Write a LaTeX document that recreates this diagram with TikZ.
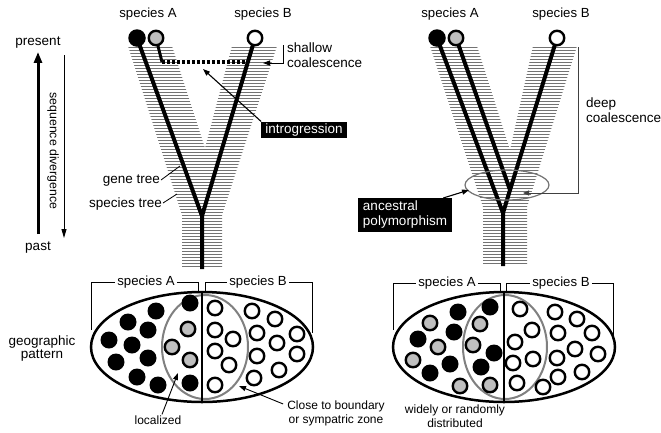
\documentclass[tikz,border=0pt]{standalone}
\usepackage{fontspec}
\setmainfont{Liberation Sans}
\usetikzlibrary{arrows.meta,calc,shapes.geometric}
\begin{document}
\begin{tikzpicture}[x=1pt,y=-1pt,
  lbl/.style={font=\fontsize{13.5}{14.5}\selectfont, inner sep=0pt},
  toplbl/.style={font=\fontsize{13.2}{14}\selectfont, inner sep=0pt},
  slbl/.style={font=\fontsize{12}{13.5}\selectfont, inner sep=0pt, align=center},
  lin/.style={line width=4pt, line join=round},
  hatchline/.style={draw=black!55, line width=1.7pt},
  bdot/.style={circle, fill=black, minimum size=17pt, inner sep=0pt},
  wdot/.style={circle, draw=black, line width=2.4pt, fill=white, minimum size=14.5pt, inner sep=0pt},
  gdot/.style={wdot, fill=black!25},
  blackbox/.style={fill=black, text=white, font=\fontsize{13.5}{15}\selectfont, inner xsep=4pt, inner ysep=2pt, align=left},
  ptr/.style={line width=1.1pt, -{Triangle[length=7pt,width=5pt]}},
  brk/.style={line width=0.9pt},
  outerell/.style={ellipse, draw=black, line width=2.5pt, fill=white, minimum width=222pt, minimum height=110pt, inner sep=0pt},
  innerell/.style={ellipse, draw=black!50, line width=2pt, minimum width=86pt, minimum height=104pt, inner sep=0pt},
]
\useasboundingbox (0,0) rectangle (661,432);

% ---------- time axis ----------
\node[lbl] (present) at (38,43) {present};
\node[lbl] (past) at (38,248) {past};
\draw[line width=3pt, -{Triangle[length=11pt,width=8pt]}, shorten <=8pt, shorten >=3pt] (past.north) -- (present.south);
\coordinate (sdTop) at (64,55);
\coordinate (sdBot) at (64,238);
\draw[line width=0.8pt, -{Triangle[length=9pt,width=5pt]}] (sdTop) -- (sdBot);
\node[lbl, rotate=-90, font=\fontsize{12.3}{14}\selectfont] (seqdiv) at (53,151) {sequence divergence};

% ---------- left tree ----------
\begin{scope}
\clip (128,46) -- (172,46) -- (205,148) -- (232,46) -- (277,46) -- (222,215) -- (222,269) -- (182,269) -- (182,215) -- cycle;
\foreach \yy in {47.5,50.5,...,269} \draw[hatchline] (120,\yy) -- (290,\yy);
\end{scope}

\coordinate (LA) at (137,38);
\coordinate (LG) at (156,38);
\coordinate (LB) at (255,38);
\coordinate (Lfork) at (202,216);
\coordinate (Lbot) at (202,269);
\coordinate (Lg1) at (162,62);
\coordinate (Lg2) at (249,62);
\draw[lin] (LA) -- (Lfork) -- (Lbot);
\draw[lin] (LB) -- (Lfork);
\draw[line width=3pt] (LG) -- (Lg1);
\draw[line width=3.5pt, dash pattern=on 3pt off 2pt] (Lg1) -- (Lg2);
\node[bdot, minimum size=17.5pt] (cLA) at (LA) {};
\node[gdot] (cLG) at (LG) {};
\node[wdot] (cLB) at (LB) {};
\node[toplbl] (tLA) at (148,14) {species A};
\node[toplbl] (tLB) at (263,14) {species B};

% shallow coalescence
\node[lbl, align=left, anchor=west] (shal) at (287,55) {shallow\\coalescence};
\coordinate (shT) at (283,45);
\coordinate (shB) at (283,63);
\coordinate (shTip) at (263,63);
\draw[brk, -{Triangle[length=7pt,width=5pt]}] (shT) -- (shB) -- (shTip);

% introgression
\node[blackbox, minimum height=16pt, minimum width=84pt] (intro) at (304,130) {introgression};
\coordinate (introTip) at (203,69);
\draw[ptr] (intro.north west) -- (introTip);

% gene tree / species tree
\node[lbl, anchor=east] (gene) at (160,181) {gene tree};
\coordinate (geneEnd) at (180,166);
\draw[line width=0.8pt] ($(gene.east)+(1,-1)$) -- (geneEnd);
\node[lbl, anchor=east] (sptree) at (162,204) {species tree};
\coordinate (spEnd) at (177,194);
\draw[line width=0.8pt] ($(sptree.east)+(1,-1)$) -- (spEnd);

% ---------- right tree ----------
\begin{scope}
\clip (430,46) -- (477,46) -- (510,150) -- (533,46) -- (577,46) -- (527,207) -- (527,266) -- (483,266) -- (483,207) -- cycle;
\foreach \yy in {47.5,50.5,...,266} \draw[hatchline] (420,\yy) -- (590,\yy);
\end{scope}

\coordinate (RA) at (437,38);
\coordinate (RG) at (456,38);
\coordinate (RB) at (557,38);
\coordinate (Rmerge) at (510,190);
\coordinate (Rfork) at (503,213);
\coordinate (Rbot) at (503,266);
\draw[lin] (RA) -- (Rfork) -- (Rbot);
\draw[lin] (RG) -- (Rmerge) -- (Rfork);
\draw[lin] (RB) -- (Rmerge);
\node[bdot, minimum size=17.5pt] (cRA) at (RA) {};
\node[gdot] (cRG) at (RG) {};
\node[wdot] (cRB) at (RB) {};
\node[toplbl] (tRA) at (450,14) {species A};
\node[toplbl] (tRB) at (561,14) {species B};

% ancestral polymorphism
\node[ellipse, draw=black!55, line width=1.2pt, minimum width=84pt, minimum height=30pt, inner sep=0pt] (ancell) at (507,185) {};
\node[blackbox, inner ysep=3pt, minimum width=94pt] (anc) at (405,215) {ancestral\\polymorphism};
\coordinate (ancTip) at (469,190);
\draw[ptr] ($(anc.north east)+(-9,0)$) -- (ancTip);

% deep coalescence
\node[lbl, align=left, anchor=west] (deep) at (586,110) {deep\\coalescence};
\coordinate (dcT) at (578,47);
\coordinate (dcB) at (578,193);
\coordinate (dcTip) at (523,193);
\draw[line width=0.9pt, draw=black!75, -{Triangle[length=6pt,width=5pt]}] (dcT) -- (dcB) -- (dcTip);

% ---------- left geography ----------
\node[lbl, align=center, font=\fontsize{13.5}{13.5}\selectfont] (geo) at (42,348.5) {geographic\\pattern};

\node[outerell] (EL) at (202,347) {};
\node[innerell] (ELi) at (205,347) {};
\draw[line width=2.5pt] (EL.north) -- (EL.south);
\foreach \p [count=\i] in {(156,311),(190,303),(128,322),(148,330),(109,340),(132,345),(148,358),(116,362),(137,377),(158,385),(190,383)}
  \node[bdot] (lb\i) at \p {};
\foreach \p [count=\i] in {(188,329),(172,347),(190,360)}
  \node[gdot] (lg\i) at \p {};
\foreach \p [count=\i] in {(215,308),(252,311),(275,319),(215,330),(233,339),(257,333),(297,334),(215,351),(277,343),(257,356),(297,354),(229,365),(279,370),(254,378),(215,385)}
  \node[wdot] (lw\i) at \p {};

\node[toplbl] (gA) at (146,282) {species A};
\node[toplbl] (gB) at (258,282) {species B};
\coordinate (gAl) at (91,330);
\coordinate (gAr) at (198,293);
\coordinate (gBl) at (205,293);
\coordinate (gBr) at (312,333);
\draw[brk] (gAl) |- ($(gA.west)+(-2,0)$);
\draw[brk] ($(gA.east)+(2,0)$) -| (gAr);
\draw[brk] (gBl) |- ($(gB.west)+(-2,0)$);
\draw[brk] ($(gB.east)+(2,0)$) -| (gBr);

\node[slbl] (loc) at (158,420) {localized};
\coordinate (locTip) at (178,373);
\draw[ptr, line width=0.9pt] ($(loc.north)+(4,-1)$) -- (locTip);

\node[slbl] (close) at (336,413.5) {Close to boundary\\or sympatric zone};
\coordinate (closeTip) at (239,386);
\draw[ptr, line width=0.9pt] ($(close.north west)+(-4,3)$) -- (closeTip);

% ---------- right geography ----------
\node[outerell] (ER) at (504,347) {};
\node[innerell, minimum width=84pt] (ERi) at (505,347) {};
\draw[line width=2.5pt] (ER.north) -- (ER.south);
\foreach \p [count=\i] in {(458,312),(490,307),(418,339),(454,332),(494,353),(450,364),(481,367),(430,373)}
  \node[bdot] (rb\i) at \p {};
\foreach \p [count=\i] in {(430,323),(480,324),(438,347),(473,345),(413,360),(460,386),(490,385)}
  \node[gdot] (rg\i) at \p {};
\foreach \p [count=\i] in {(520,309),(555,312),(577,319),(532,330),(558,333),(592,333),(515,342),(575,349),(598,354),(533,359),(557,358),(513,363),(582,372),(558,377),(517,383),(543,387)}
  \node[wdot] (rw\i) at \p {};

\node[toplbl] (hA) at (447,283) {species A};
\node[toplbl] (hB) at (561,283) {species B};
\coordinate (hAl) at (393,330);
\coordinate (hAr) at (500,293);
\coordinate (hBl) at (506,293);
\coordinate (hBr) at (613,335);
\draw[brk] (hAl) |- ($(hA.west)+(-2,0)$);
\draw[brk] ($(hA.east)+(2,0)$) -| (hAr);
\draw[brk] (hBl) |- ($(hB.west)+(-2,0)$);
\draw[brk] ($(hB.east)+(2,0)$) -| (hBr);

\node[slbl] (wide) at (455,416) {widely or randomly\\distributed};
\end{tikzpicture}
\end{document}
